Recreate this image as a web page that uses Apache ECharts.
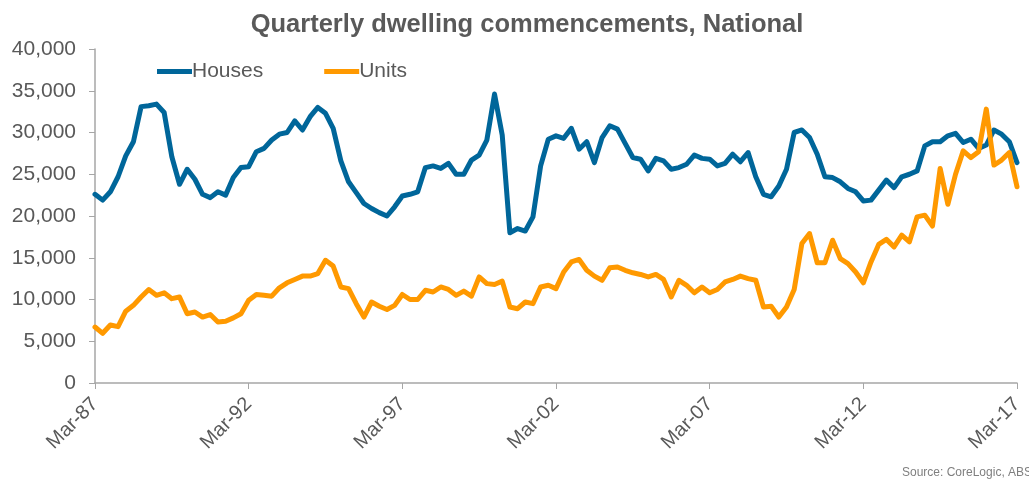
<!DOCTYPE html>
<html>
<head>
<meta charset="utf-8">
<script src="https://cdn.jsdelivr.net/npm/echarts@6/dist/echarts.min.js"></script>
<style>
  html, body { margin: 0; padding: 0; background: #ffffff; }
  #chart { width: 1029px; height: 479px; }
</style>
</head>
<body>
<div id="chart"></div>
<script>
// Quarterly dwelling commencements, Mar-87 to Mar-17 (one value per quarter)
const houses = [
  22600, 21900, 22900, 24700, 27200, 28900, 33100, 33200, 33400, 32400,
  27100, 23800, 25600, 24400, 22600, 22200, 22900, 22500, 24600, 25800,
  25900, 27700, 28100, 29100, 29800, 30000, 31400, 30300, 31900, 33000,
  32300, 30500, 26600, 24100, 22800, 21500, 20900, 20400, 20000, 21100,
  22400, 22600, 22900, 25800, 26000, 25700, 26300, 25000, 25000, 26700,
  27300, 29100, 34600, 29700, 18000, 18500, 18200, 19900, 26000, 29200,
  29600, 29300, 30500, 28000, 28900, 26400, 29400, 30800, 30400, 28700,
  27000, 26800, 25400, 26900, 26600, 25600, 25800, 26200, 27300, 26900,
  26800, 26000, 26300, 27400, 26500, 27600, 24700, 22600, 22300, 23600,
  25600, 30000, 30300, 29400, 27400, 24700, 24600, 24100, 23300, 22900,
  21800, 21900, 23100, 24300, 23400, 24700, 25000, 25400, 28400, 28900,
  28900, 29600, 29900, 28800, 29200, 28100, 28500, 30300, 29800, 28900,
  26400
];
const units = [
  6700, 5950, 6950, 6750, 8600, 9300, 10300, 11200, 10500, 10800,
  10100, 10300, 8300, 8500, 7900, 8200, 7300, 7400, 7800, 8300,
  9900, 10600, 10500, 10400, 11400, 12000, 12400, 12800, 12800, 13100,
  14700, 14000, 11500, 11300, 9500, 7900, 9700, 9200, 8800, 9300,
  10600, 10000, 10000, 11100, 10900, 11500, 11200, 10500, 11000, 10400,
  12700, 11900, 11800, 12200, 9100, 8900, 9700, 9500, 11500, 11700,
  11300, 13300, 14500, 14800, 13500, 12800, 12300, 13800, 13900, 13500,
  13200, 13000, 12700, 13000, 12400, 10300, 12300, 11700, 10800, 11500,
  10800, 11200, 12100, 12400, 12800, 12500, 12300, 9100, 9200, 7900,
  9100, 11200, 16700, 17900, 14400, 14400, 17100, 14900, 14300, 13300,
  12000, 14500, 16600, 17200, 16300, 17700, 16900, 19900, 20100, 18800,
  25700, 21400, 25000, 27800, 27000, 27700, 32800, 26100, 26700, 27600,
  23500
];

// Quarter labels: Mar-87, Jun-87, Sep-87, Dec-87, ... Mar-17
const quarterMonths = ['Mar', 'Jun', 'Sep', 'Dec'];
const firstYear = 1987;
const categories = houses.map((_, i) => {
  const yr = firstYear + Math.floor(i / 4);
  return quarterMonths[i % 4] + '-' + String(yr % 100).padStart(2, '0');
});

const seriesNames = ['Houses', 'Units'];
const seriesColors = ['#00669A', '#FF9900'];
const yTicks = { min: 0, max: 40000, interval: 5000 };

const textGray = '#595959';
const axisGray = '#A6A6A6';
const baseFont = 'Liberation Sans, Arial, sans-serif';

const chart = echarts.init(document.getElementById('chart'), null, { renderer: 'canvas' });

chart.setOption({
  backgroundColor: '#ffffff',
  animation: false,
  title: {
    text: 'Quarterly dwelling commencements, National',
    left: 522,
    top: 7,
    textAlign: 'center',
    textStyle: { fontFamily: baseFont, fontSize: 25.5, fontWeight: 'bold', color: textGray }
  },
  legend: {
    data: seriesNames,
    left: 152,
    top: 56,
    icon: 'rect',
    itemWidth: 35,
    itemHeight: 5,
    itemGap: 61,
    textStyle: { fontFamily: baseFont, fontSize: 21, color: textGray, padding: [0, 0, 0, -5] }
  },
  grid: { left: 95, right: 12, top: 49, bottom: 96 },
  xAxis: {
    type: 'category',
    data: categories,
    boundaryGap: false,
    axisLine: { lineStyle: { color: axisGray, width: 1.5 } },
    axisTick: { show: true, interval: 19, length: 6, lineStyle: { color: axisGray } },
    axisLabel: {
      interval: 19,
      rotate: 45,
      margin: 18,
      fontFamily: baseFont,
      fontSize: 20,
      color: textGray
    },
    splitLine: { show: false }
  },
  yAxis: {
    type: 'value',
    min: yTicks.min,
    max: yTicks.max,
    interval: yTicks.interval,
    axisLine: { show: true, lineStyle: { color: axisGray, width: 1.5 } },
    axisTick: { show: true, length: 6, lineStyle: { color: axisGray } },
    axisLabel: {
      margin: 19,
      fontFamily: baseFont,
      fontSize: 21,
      color: textGray,
      formatter: v => v.toLocaleString('en-US')
    },
    splitLine: { show: false }
  },
  series: [
    {
      name: seriesNames[0],
      type: 'line',
      data: houses,
      symbol: 'none',
      color: seriesColors[0],
      lineStyle: { width: 5, color: seriesColors[0], join: 'round', cap: 'round' },
      z: 2
    },
    {
      name: seriesNames[1],
      type: 'line',
      data: units,
      symbol: 'none',
      color: seriesColors[1],
      lineStyle: { width: 5, color: seriesColors[1], join: 'round', cap: 'round' },
      z: 3
    }
  ],
  graphic: [
    {
      type: 'text',
      left: 902,
      top: 467,
      style: { text: 'Source: CoreLogic, ABS', fontFamily: baseFont, fontSize: 12, fill: '#7F7F7F' }
    }
  ]
});
</script>
</body>
</html>
